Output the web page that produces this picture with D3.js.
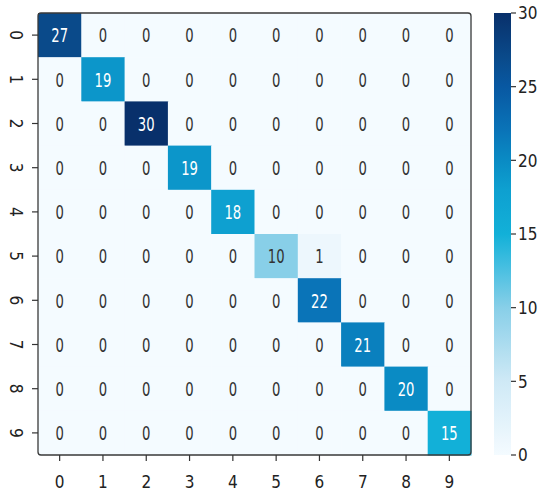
<!DOCTYPE html>
<html>
<head>
<meta charset="utf-8">
<script src="https://cdn.jsdelivr.net/npm/d3@7"></script>
<style>
  body { margin: 0; background: #fff; }
  text { font-family: "DejaVu Sans", sans-serif; }
</style>
</head>
<body>
<div id="vis"></div>
<script>
// class labels (rows = true, columns = predicted)
let labels = ['0', '1', '2', '3', '4', '5', '6', '7', '8', '9'];

// confusion matrix counts, one array per row
let row0 = [27, 0, 0, 0, 0, 0, 0, 0, 0, 0];
let row1 = [0, 19, 0, 0, 0, 0, 0, 0, 0, 0];
let row2 = [0, 0, 30, 0, 0, 0, 0, 0, 0, 0];
let row3 = [0, 0, 0, 19, 0, 0, 0, 0, 0, 0];
let row4 = [0, 0, 0, 0, 18, 0, 0, 0, 0, 0];
let row5 = [0, 0, 0, 0, 0, 10, 1, 0, 0, 0];
let row6 = [0, 0, 0, 0, 0, 0, 22, 0, 0, 0];
let row7 = [0, 0, 0, 0, 0, 0, 0, 21, 0, 0];
let row8 = [0, 0, 0, 0, 0, 0, 0, 0, 20, 0];
let row9 = [0, 0, 0, 0, 0, 0, 0, 0, 0, 15];
let matrix = [row0, row1, row2, row3, row4, row5, row6, row7, row8, row9];

// colorbar ticks
let colorbarTicks = [0, 5, 10, 15, 20, 25, 30];

let width = 550;
let height = 495;
let hm = { left: 38, right: 471, top: 13, bottom: 455 };
let cb = { left: 494, right: 511 };

let svg = d3.select('#vis').append('svg')
  .attr('width', width)
  .attr('height', height);

let x = d3.scaleBand().domain(labels).range([hm.left, hm.right]);
let y = d3.scaleBand().domain(labels).range([hm.top, hm.bottom]);

// saturated "Blues"-like ramp as seen in the picture
let color = d3.scaleLinear()
  .domain([0, 5, 10, 13, 15, 18, 20, 22, 25, 27, 30])
  .range(['#f4fbff', '#cfe9f6', '#88cfe8', '#40bde0', '#12b0d8', '#0ea0d0',
          '#0a8bc4', '#0a74b8', '#0858a2', '#0a4a8a', '#08306b'])
  .interpolate(d3.interpolateRgb);

let cells = [];
matrix.forEach(function (row, i) {
  row.forEach(function (v, j) {
    cells.push({ r: labels[i], c: labels[j], v: v });
  });
});

svg.append('g').selectAll('rect')
  .data(cells)
  .join('rect')
  .attr('x', d => x(d.c))
  .attr('y', d => y(d.r))
  .attr('width', x.bandwidth() + 0.5)
  .attr('height', y.bandwidth() + 0.5)
  .attr('fill', d => color(d.v));

// annotations
svg.append('g').selectAll('g')
  .data(cells)
  .join('g')
  .attr('transform', d => 'translate(' + (x(d.c) + x.bandwidth() / 2) + ',' +
    (y(d.r) + y.bandwidth() / 2) + ') scale(0.66,1)')
  .append('text')
  .attr('text-anchor', 'middle')
  .attr('dy', '0.36em')
  .attr('font-size', 20)
  .attr('fill', d => d.v >= 14 ? '#ffffff' : '#333333')
  .text(d => d.v);

// frame
svg.append('rect')
  .attr('x', hm.left)
  .attr('y', hm.top)
  .attr('width', hm.right - hm.left)
  .attr('height', hm.bottom - hm.top)
  .attr('rx', 3)
  .attr('fill', 'none')
  .attr('stroke', '#3a3a3a')
  .attr('stroke-width', 1.3);

// x axis
let xAxis = svg.append('g');
labels.forEach(function (l) {
  let cx = x(l) + x.bandwidth() / 2;
  xAxis.append('line')
    .attr('x1', cx).attr('x2', cx)
    .attr('y1', hm.bottom).attr('y2', hm.bottom + 6)
    .attr('stroke', '#333').attr('stroke-width', 1.2);
  xAxis.append('g')
    .attr('transform', 'translate(' + cx + ',' + (hm.bottom + 33) + ') scale(0.85,1)')
    .append('text')
    .attr('text-anchor', 'middle')
    .attr('font-size', 18)
    .attr('fill', '#222')
    .text(l);
});

// y axis (labels turned clockwise, as in the picture)
let yAxis = svg.append('g');
labels.forEach(function (l) {
  let cy = y(l) + y.bandwidth() / 2;
  yAxis.append('line')
    .attr('x1', hm.left - 6).attr('x2', hm.left)
    .attr('y1', cy).attr('y2', cy)
    .attr('stroke', '#333').attr('stroke-width', 1.2);
  yAxis.append('g')
    .attr('transform', 'translate(10,' + cy + ') rotate(90) scale(0.85,1)')
    .append('text')
    .attr('text-anchor', 'middle')
    .attr('font-size', 18)
    .attr('fill', '#222')
    .text(l);
});

// colorbar
let cbY = d3.scaleLinear().domain([0, 30]).range([hm.bottom, hm.top]);
let grad = svg.append('defs').append('linearGradient')
  .attr('id', 'cbgrad')
  .attr('x1', 0).attr('y1', 1).attr('x2', 0).attr('y2', 0);
d3.range(0, 31).forEach(function (v) {
  grad.append('stop')
    .attr('offset', (v / 30 * 100) + '%')
    .attr('stop-color', color(v));
});
svg.append('rect')
  .attr('x', cb.left)
  .attr('y', hm.top)
  .attr('width', cb.right - cb.left)
  .attr('height', hm.bottom - hm.top)
  .attr('fill', 'url(#cbgrad)');

let cbAxis = svg.append('g');
colorbarTicks.forEach(function (t) {
  let ty = cbY(t);
  cbAxis.append('line')
    .attr('x1', cb.right).attr('x2', cb.right + 5)
    .attr('y1', ty).attr('y2', ty)
    .attr('stroke', '#333').attr('stroke-width', 1.2);
  cbAxis.append('g')
    .attr('transform', 'translate(' + (cb.right + 7) + ',' + ty + ') scale(0.85,1)')
    .append('text')
    .attr('dy', '0.36em')
    .attr('font-size', 18)
    .attr('fill', '#222')
    .text(t);
});
</script>
</body>
</html>
